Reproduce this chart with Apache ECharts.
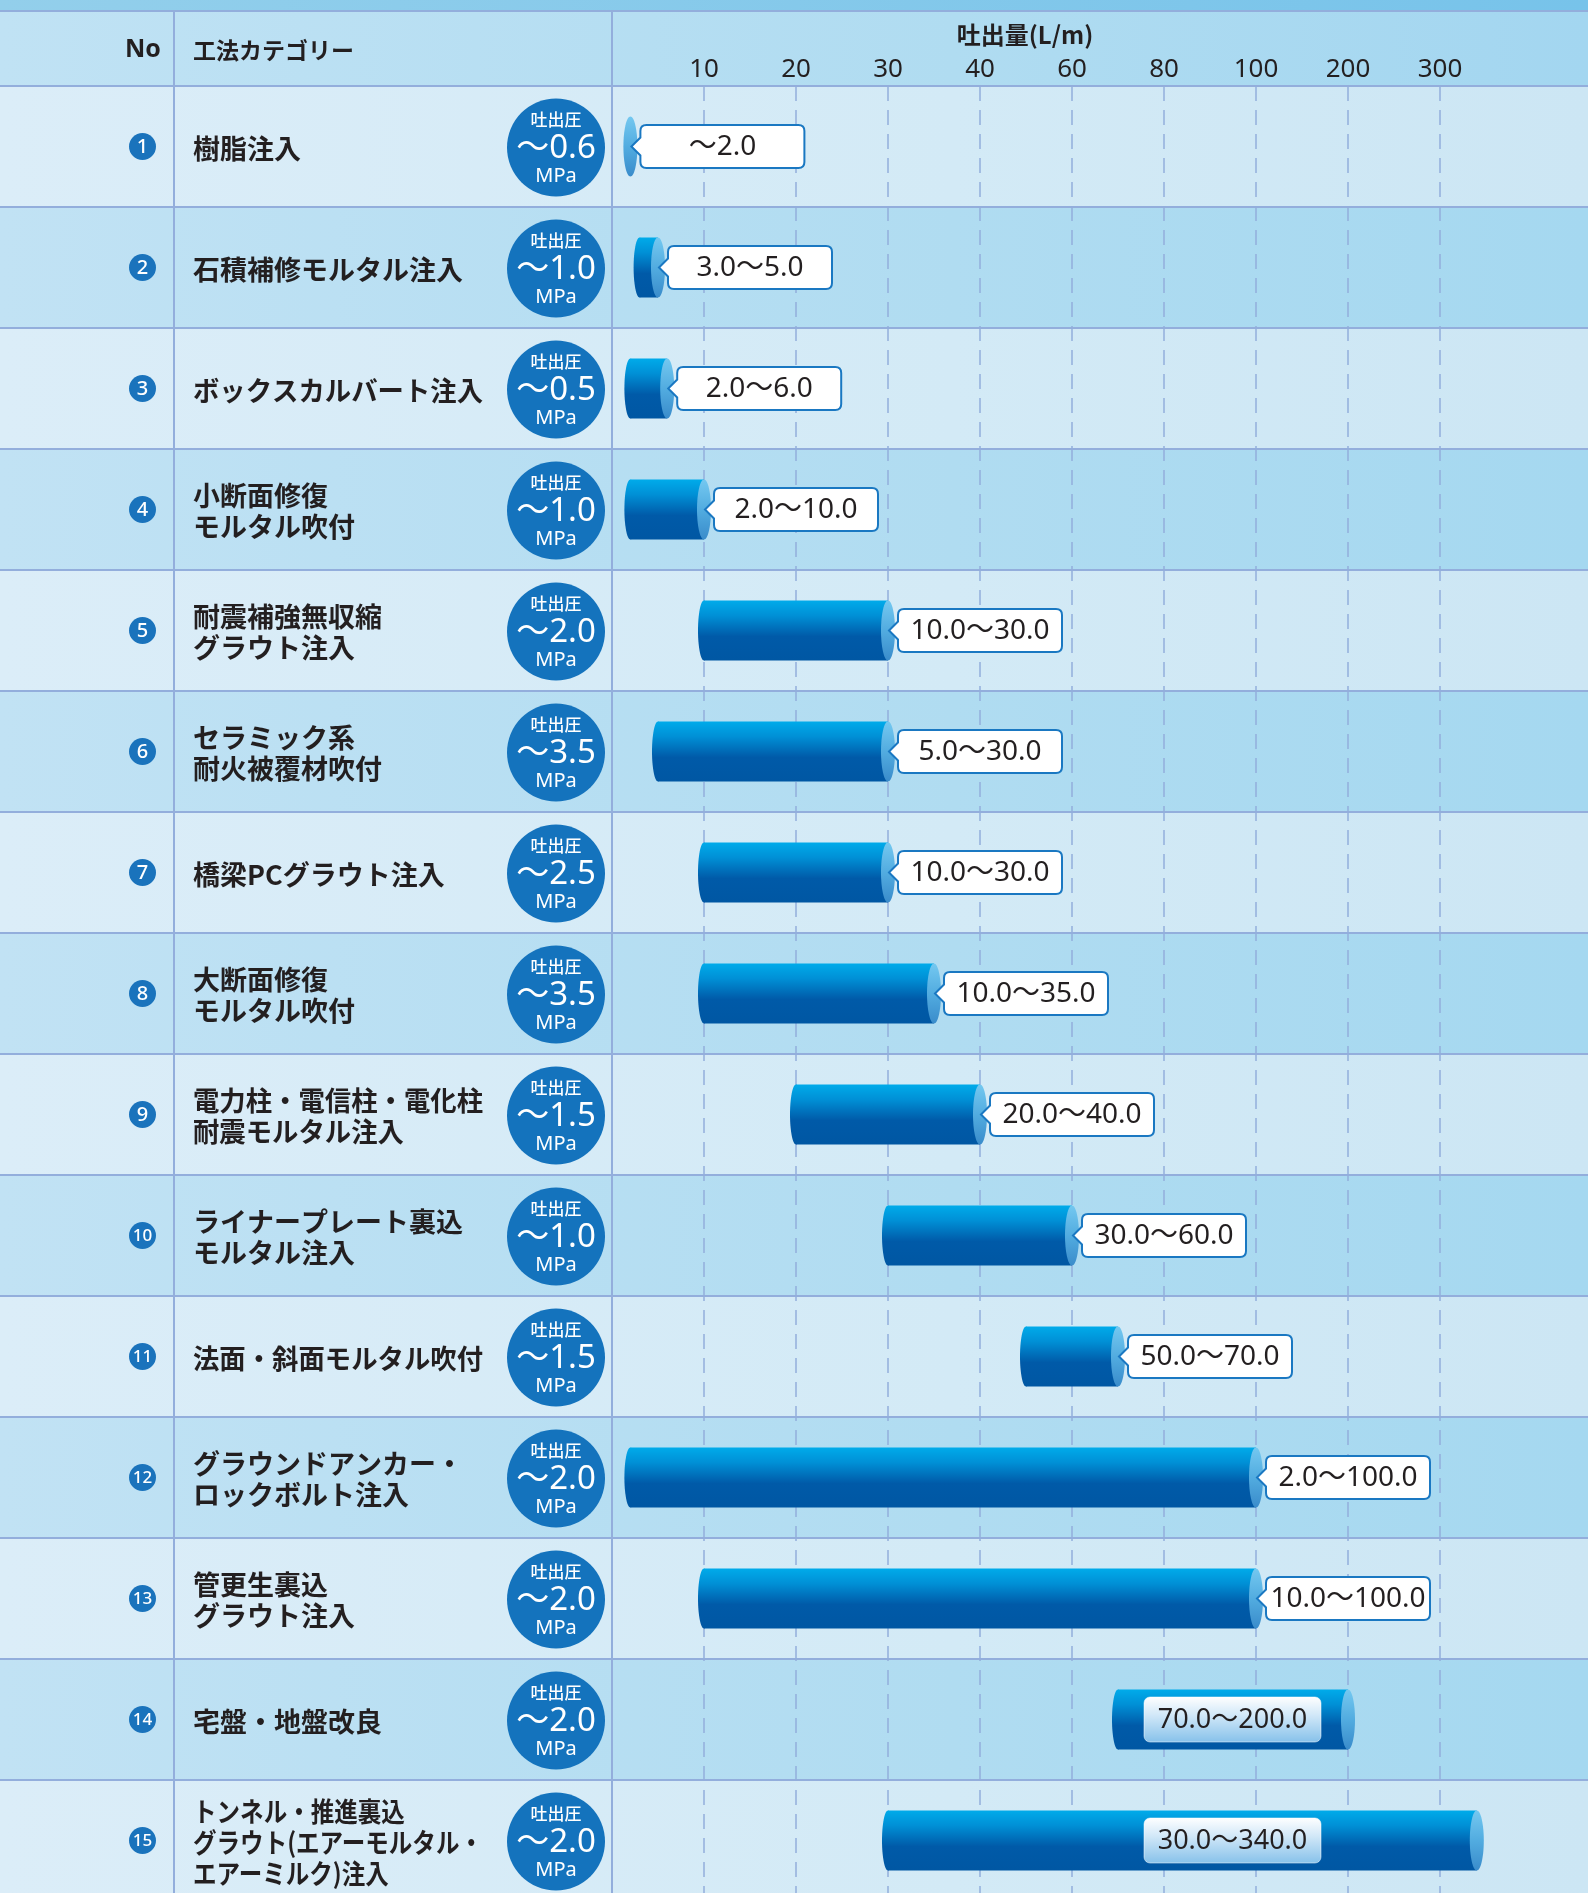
<!DOCTYPE html>
<html>
<head>
<meta charset="utf-8">
<title>吐出量</title>
<script src="https://cdn.jsdelivr.net/npm/echarts@6/dist/echarts.min.js"></script>
<style>
  html, body { margin: 0; padding: 0; background: #d8ecf7; }
  #main { width: 1588px; height: 1893px; }
</style>
</head>
<body>
<div id="main"></div>
<script>
// 目盛り(不等間隔) : 1目盛り = 1区間
var breaks = [0, 10, 20, 30, 40, 60, 80, 100, 200, 300, 400];
var tickLabels = ['', '10', '20', '30', '40', '60', '80', '100', '200', '300', ''];

var categories = [
  '樹脂注入',
  '石積補修モルタル注入',
  'ボックスカルバート注入',
  '小断面修復\nモルタル吹付',
  '耐震補強無収縮\nグラウト注入',
  'セラミック系\n耐火被覆材吹付',
  '橋梁PCグラウト注入',
  '大断面修復\nモルタル吹付',
  '電力柱・電信柱・電化柱\n耐震モルタル注入',
  'ライナープレート裏込\nモルタル注入',
  '法面・斜面モルタル吹付',
  'グラウンドアンカー・\nロックボルト注入',
  '管更生裏込\nグラウト注入',
  '宅盤・地盤改良',
  'トンネル・推進裏込\nグラウト(エアーモルタル・\nエアーミルク)注入'
];
// 吐出圧 (MPa)
var pressure = [0.6, 1.0, 0.5, 1.0, 2.0, 3.5, 2.5, 3.5, 1.5, 1.0, 1.5, 2.0, 2.0, 2.0, 2.0];
// 吐出量 (L/m)
var flowMin = [null, 3.0, 2.0, 2.0, 10.0, 5.0, 10.0, 10.0, 20.0, 30.0, 50.0, 2.0, 10.0, 70.0, 30.0];
var flowMax = [2.0, 5.0, 6.0, 10.0, 30.0, 30.0, 30.0, 35.0, 40.0, 60.0, 70.0, 100.0, 100.0, 200.0, 340.0];

var W = 1588, H = 1893;
var TOP = 86, ROW_H = 121;
var CJK = '"Noto Sans CJK JP", "Noto Sans", sans-serif';
var LAT = '"Noto Sans", "Noto Sans CJK JP", sans-serif';
var lineColor = '#93aedc';

// 値 -> 目盛り位置(区間内は線形)
function toIdx(v) {
  for (var i = 0; i < breaks.length - 1; i++) {
    if (v <= breaks[i + 1]) {
      return i + (v - breaks[i]) / (breaks[i + 1] - breaks[i]);
    }
  }
  return breaks.length - 1;
}
function rangeText(i) {
  return (flowMin[i] == null ? '' : flowMin[i].toFixed(1)) + '〜' + flowMax[i].toFixed(1);
}

var measureCtx = document.createElement('canvas').getContext('2d');
function textWidth(str, font) {
  measureCtx.font = font;
  var w = 0;
  str.split('\n').forEach(function (s) { w = Math.max(w, measureCtx.measureText(s).width); });
  return w;
}

var LG = echarts.graphic.LinearGradient;

// 行の背景・番号・工法名・吐出圧
function renderRow(params, api) {
  var i = api.value(1);
  var bandH = api.size([0, 1])[1];
  var cy = api.coord([0, i])[1];
  var top = cy - bandH / 2;
  var odd = i % 2 === 0;
  var bg = odd
    ? new LG(0, 0, 1, 0, [{offset: 0, color: '#dbedf8'}, {offset: 0.6, color: '#d3eaf6'}, {offset: 1, color: '#cce6f4'}])
    : new LG(0, 0, 1, 0, [{offset: 0, color: '#c1e2f4'}, {offset: 0.6, color: '#b0dcf1'}, {offset: 1, color: '#a5d8f0'}]);
  var num = String(i + 1);
  var nameFont = 'bold 27px ' + CJK;
  var nw = textWidth(categories[i], nameFont);
  var sx = nw > 290 ? 290 / nw : 1;
  return {
    type: 'group',
    children: [
      {type: 'rect', z2: 0, shape: {x: 0, y: top, width: W, height: bandH}, style: {fill: bg}},
      {type: 'circle', z2: 5, shape: {cx: 142.5, cy: cy, r: 13.5}, style: {fill: '#1a73bc'}},
      {type: 'text', z2: 6, style: {
        text: num, x: 142.5, y: cy + 1, align: 'center', verticalAlign: 'middle',
        fill: '#fff', fontSize: num.length > 1 ? 17 : 20, fontFamily: LAT, fontWeight: 500
      }},
      {type: 'text', z2: 6, x: 193, y: cy + 2, scaleX: sx, style: {
        text: categories[i], x: 0, y: 0, align: 'left', verticalAlign: 'middle',
        fill: '#231f20', fontSize: 27, lineHeight: 31, fontFamily: CJK, fontWeight: 'bold'
      }},
      {type: 'circle', z2: 5, shape: {cx: 556, cy: cy + 1, r: 49}, style: {fill: '#1473bd'}},
      {type: 'text', z2: 6, style: {
        text: '吐出圧', x: 556, y: cy - 27, align: 'center', verticalAlign: 'middle',
        fill: '#fff', fontSize: 17, fontFamily: CJK, fontWeight: 500
      }},
      {type: 'text', z2: 6, style: {
        text: '〜' + pressure[i].toFixed(1), x: 556, y: cy + 2, align: 'center', verticalAlign: 'middle',
        fill: '#fff', fontSize: 33, fontFamily: LAT
      }},
      {type: 'text', z2: 6, style: {
        text: 'MPa', x: 556, y: cy + 30, align: 'center', verticalAlign: 'middle',
        fill: '#fff', fontSize: 20, fontFamily: LAT
      }},
      {type: 'line', z2: 8, shape: {x1: 0, y1: top + bandH, x2: W, y2: top + bandH}, style: {stroke: lineColor, lineWidth: 2}}
    ]
  };
}

// 破線の目盛り線
function renderGridLine(params, api) {
  var x = api.coord([api.value(0), 0])[0];
  return {
    type: 'line',
    shape: {x1: x, y1: TOP, x2: x, y2: H},
    style: {stroke: lineColor, lineWidth: 1.5, lineDash: [15, 9]}
  };
}

// 円柱状のバーとラベル
function renderBar(params, api) {
  var i = api.value(2);
  var s = api.coord([api.value(0), i]);
  var e = api.coord([api.value(1), i]);
  var cy = s[1], h = 60;
  var x0 = s[0], x1 = e[0];
  var body = new LG(0, 0, 0, 1, [
    {offset: 0, color: '#00abea'}, {offset: 0.25, color: '#0090d6'},
    {offset: 0.6, color: '#005aa8'}, {offset: 1, color: '#0057a3'}
  ]);
  var cap = new LG(0, 0, 0, 1, [
    {offset: 0, color: '#74c8f0'}, {offset: 0.5, color: '#52ace0'}, {offset: 1, color: '#3a8ccb'}
  ]);
  var children = [];
  if (flowMin[i] != null) {
    children.push({type: 'ellipse', shape: {cx: x0, cy: cy, rx: 6, ry: h / 2}, style: {fill: body}});
    children.push({type: 'rect', shape: {x: x0, y: cy - h / 2, width: x1 - x0, height: h}, style: {fill: body}});
  }
  children.push({type: 'ellipse', shape: {cx: x1, cy: cy, rx: 7, ry: h / 2}, style: {fill: cap}});

  var txt = rangeText(i);
  if (flowMax[i] >= 200) {
    // バーの中にラベル
    var w2 = 177, h2 = 45;
    var right = Math.min(x1, api.coord([toIdx(200), i])[0]) - 27;
    children.push({type: 'rect', shape: {x: right - w2, y: cy - h2 / 2, width: w2, height: h2, r: 6},
      style: {fill: new LG(0, 0, 0, 1, [{offset: 0, color: '#ffffff'}, {offset: 0.4, color: '#d2e8f8'}, {offset: 1, color: '#86c1ea'}]),
        stroke: 'rgba(255,255,255,0.5)', lineWidth: 1}});
    children.push({type: 'text', style: {text: txt, x: right - w2 / 2, y: cy + 1, align: 'center', verticalAlign: 'middle',
      fill: '#231f20', fontSize: 27, fontFamily: LAT}});
  } else {
    var bx = x1 + 10, bw = 164, bh = 43, by = cy - bh / 2, r = 6, t = 9;
    var d = 'M' + (bx + r) + ' ' + by +
      ' L' + (bx + bw - r) + ' ' + by + ' Q' + (bx + bw) + ' ' + by + ' ' + (bx + bw) + ' ' + (by + r) +
      ' L' + (bx + bw) + ' ' + (by + bh - r) + ' Q' + (bx + bw) + ' ' + (by + bh) + ' ' + (bx + bw - r) + ' ' + (by + bh) +
      ' L' + (bx + r) + ' ' + (by + bh) + ' Q' + bx + ' ' + (by + bh) + ' ' + bx + ' ' + (by + bh - r) +
      ' L' + bx + ' ' + (cy + t) + ' L' + (bx - t) + ' ' + cy + ' L' + bx + ' ' + (cy - t) +
      ' L' + bx + ' ' + (by + r) + ' Q' + bx + ' ' + by + ' ' + (bx + r) + ' ' + by + ' Z';
    children.push({type: 'path', shape: {pathData: d, x: bx - t, y: by, width: bw + t, height: bh, layout: 'cover'},
      style: {fill: '#fff', stroke: '#1a78c2', lineWidth: 2}});
    children.push({type: 'text', style: {text: txt, x: bx + bw / 2, y: cy + 1, align: 'center', verticalAlign: 'middle',
      fill: '#231f20', fontSize: 28, fontFamily: LAT}});
  }
  return {type: 'group', children: children};
}

var chart = echarts.init(document.getElementById('main'));
chart.setOption({
  animation: false,
  backgroundColor: '#d8ecf7',
  grid: {left: 612, right: 0, top: TOP, bottom: 0},
  xAxis: {
    type: 'value', position: 'top', min: 0, max: (W - 612) / 92, interval: 1, z: 5,
    axisLine: {show: false}, axisTick: {show: false}, splitLine: {show: false},
    axisLabel: {
      margin: 3, fontSize: 26, color: '#231f20', fontFamily: LAT,
      showMinLabel: false, showMaxLabel: false,
      formatter: function (v) { return tickLabels[Math.round(v)] || ''; }
    }
  },
  // 行番号の軸 (最終行は下端で切れる)
  yAxis: {
    type: 'value', inverse: true, show: false,
    min: -0.5, max: -0.5 + (H - TOP) / ROW_H,
    splitLine: {show: false}
  },
  graphic: {
    elements: [
      {type: 'rect', z: 0, shape: {x: 0, y: 0, width: W, height: 11},
        style: {fill: new LG(0, 0, 1, 0, [{offset: 0, color: '#93cfeb'}, {offset: 1, color: '#77c3ea'}])}},
      {type: 'rect', z: 0, shape: {x: 0, y: 11, width: W, height: 75},
        style: {fill: new LG(0, 0, 1, 0, [{offset: 0, color: '#c0e2f4'}, {offset: 0.6, color: '#b0dcf1'}, {offset: 1, color: '#a3d6f0'}])}},
      {type: 'line', z: 3, shape: {x1: 0, y1: 11, x2: W, y2: 11}, style: {stroke: lineColor, lineWidth: 2}},
      {type: 'line', z: 3, shape: {x1: 0, y1: TOP, x2: W, y2: TOP}, style: {stroke: lineColor, lineWidth: 2}},
      {type: 'line', z: 3, shape: {x1: 174, y1: 11, x2: 174, y2: H}, style: {stroke: lineColor, lineWidth: 2}},
      {type: 'line', z: 3, shape: {x1: 612, y1: 11, x2: 612, y2: H}, style: {stroke: lineColor, lineWidth: 2}},
      {type: 'text', z: 5, style: {text: 'No', x: 161, y: 50, align: 'right', verticalAlign: 'middle',
        fill: '#231f20', fontSize: 25, fontWeight: 'bold', fontFamily: LAT}},
      {type: 'text', z: 5, style: {text: '工法カテゴリー', x: 193, y: 50, align: 'left', verticalAlign: 'middle',
        fill: '#231f20', fontSize: 23, fontWeight: 'bold', fontFamily: CJK}},
      {type: 'text', z: 5, style: {text: '吐出量(L/m)', x: 1025, y: 35, align: 'center', verticalAlign: 'middle',
        fill: '#231f20', fontSize: 24, fontWeight: 'bold', fontFamily: CJK}}
    ]
  },
  series: [
    {
      type: 'custom', name: 'rows', z: 1, clip: false, silent: true,
      renderItem: renderRow,
      encode: {x: 0, y: 1},
      data: categories.map(function (c, i) { return [0, i]; })
    },
    {
      type: 'custom', name: 'grid', z: 2, clip: false, silent: true,
      renderItem: renderGridLine,
      encode: {x: 0, y: 1},
      data: tickLabels.map(function (t, k) { return t ? [k, 0] : null; }).filter(Boolean)
    },
    {
      type: 'custom', name: '吐出量', z: 6, clip: false,
      renderItem: renderBar,
      encode: {x: [0, 1], y: 2},
      data: categories.map(function (c, i) {
        var lo = flowMin[i] == null ? flowMax[i] : flowMin[i];
        return [toIdx(lo), toIdx(flowMax[i]), i];
      })
    }
  ]
});
</script>
</body>
</html>
